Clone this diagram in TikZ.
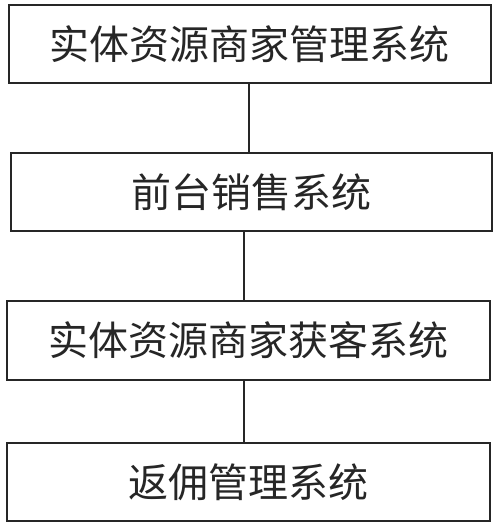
\documentclass[tikz,border=0pt]{standalone}
\usepackage{fontspec}
\newfontfamily\cjk{Noto Sans CJK SC}
\tikzset{sysbox/.style={draw=black!85,line width=1.6pt,fill=white,inner sep=0pt,font=\cjk\fontsize{40}{40}\selectfont,text=black!85}}
\begin{document}
\begin{tikzpicture}[x=1pt,y=-1pt]
 \useasboundingbox (0,0) rectangle (500,526);
 \node[sysbox,minimum width=482pt,minimum height=78pt] (b1) at (249.75,44) {实体资源商家管理系统};
 \node[sysbox,minimum width=481pt,minimum height=78pt] (b2) at (251.5,192) {前台销售系统};
 \node[sysbox,minimum width=483pt,minimum height=79pt] (b3) at (248.5,340.5) {实体资源商家获客系统};
 \node[sysbox,minimum width=483pt,minimum height=78pt] (b4) at (248.5,482) {返佣管理系统};
 \draw[black!85,line width=1.6pt] (b1.south -| 249,0) -- (b2.north -| 249,0);
 \draw[black!85,line width=1.6pt] (b2.south -| 244,0) -- (b3.north -| 244,0);
 \draw[black!85,line width=1.6pt] (b3.south -| 244,0) -- (b4.north -| 244,0);
\end{tikzpicture}
\end{document}
